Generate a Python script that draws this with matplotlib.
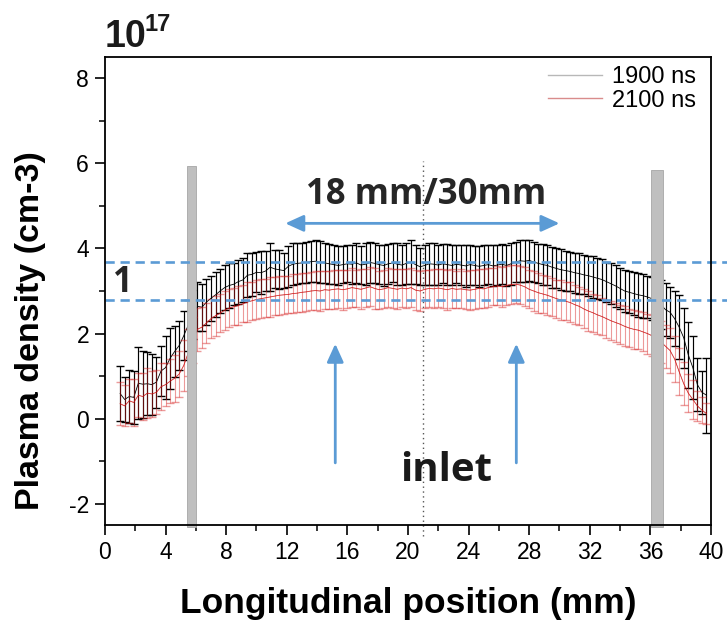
import numpy as np
import matplotlib
matplotlib.use("Agg")
import matplotlib.pyplot as plt
from matplotlib.lines import Line2D
from matplotlib.ticker import MultipleLocator

plt.rcParams["axes.unicode_minus"] = False
BASE = "Liberation Sans"
ANNOT = "Open Sans"

# ---- data ----
x_start, x_step, n_pts = 1.0, 0.3, 130
x_mm = np.round(x_start + x_step * np.arange(n_pts), 2)

black_mean = [0.59, 0.45, 0.52, 0.50, 0.83, 0.81, 0.82, 0.80, 0.86, 1.12, 1.20, 1.42, 1.58, 1.72, 1.95,
              2.20, 2.45,
              2.64, 2.62, 2.74, 2.83, 2.91, 3.00, 3.08, 3.13, 3.16, 3.22, 3.26, 3.37, 3.39,
              3.44, 3.43, 3.47, 3.56, 3.52, 3.50, 3.48, 3.58, 3.63, 3.65,
              3.66, 3.67, 3.69, 3.70, 3.68, 3.66, 3.64, 3.62, 3.60, 3.62,
              3.64, 3.63, 3.66, 3.61, 3.63, 3.67, 3.65, 3.62, 3.60, 3.64,
              3.66, 3.63, 3.61, 3.65, 3.68, 3.62, 3.57, 3.60, 3.64, 3.63,
              3.61, 3.64, 3.62, 3.60, 3.63, 3.61, 3.59, 3.62, 3.60, 3.58,
              3.60, 3.62, 3.59, 3.61, 3.63, 3.60, 3.64, 3.68, 3.71, 3.70,
              3.72, 3.68, 3.65, 3.62, 3.60, 3.56, 3.53, 3.50, 3.48, 3.46,
              3.43, 3.41, 3.38, 3.36, 3.33, 3.30, 3.27, 3.22, 3.17, 3.12,
              3.06, 3.00, 2.97, 2.94, 2.91, 2.89, 2.86, 2.82, 2.75, 2.68,
              2.56, 2.50, 2.35, 2.15, 1.90, 1.50, 1.20, 0.80, 0.62, 0.55]
black_err = [0.64, 0.54, 0.62, 0.63, 0.85, 0.79, 0.74, 0.72, 0.60, 0.58, 0.74, 0.72, 0.60, 0.58, 0.58,
             0.60, 0.58,
             0.57, 0.55, 0.55, 0.53, 0.53, 0.51, 0.52, 0.52, 0.50, 0.52, 0.52, 0.52, 0.50,
             0.47, 0.50, 0.48, 0.56, 0.45, 0.46, 0.42, 0.48, 0.49, 0.48,
             0.48, 0.49, 0.48, 0.50, 0.49, 0.48, 0.47, 0.46, 0.45, 0.44,
             0.44, 0.46, 0.47, 0.45, 0.50, 0.49, 0.47, 0.46, 0.48, 0.47,
             0.46, 0.50, 0.47, 0.48, 0.52, 0.46, 0.44, 0.47, 0.49, 0.50,
             0.48, 0.46, 0.49, 0.47, 0.45, 0.48, 0.50, 0.47, 0.46, 0.48,
             0.47, 0.45, 0.48, 0.46, 0.47, 0.49, 0.50, 0.48, 0.49, 0.50,
             0.48, 0.47, 0.46, 0.49, 0.47, 0.48, 0.47, 0.48, 0.47, 0.46,
             0.47, 0.48, 0.46, 0.47, 0.50, 0.48, 0.49, 0.47, 0.48, 0.50,
             0.48, 0.50, 0.49, 0.50, 0.52, 0.52, 0.50, 0.50, 0.55, 0.58,
             0.62, 0.60, 0.65, 0.75, 0.70, 0.78, 0.75, 0.62, 0.50, 0.88]
red_mean = [0.35, 0.30, 0.42, 0.38, 0.55, 0.52, 0.60, 0.58, 0.62, 0.75, 0.80, 0.88, 0.95, 1.05, 1.25,
            1.55, 1.85,
            2.10, 2.15, 2.25, 2.35, 2.42, 2.48, 2.55, 2.60, 2.63, 2.66, 2.70, 2.74, 2.77,
            2.80, 2.82, 2.84, 2.86, 2.88, 2.90, 2.91, 2.92, 2.94, 2.95,
            2.97, 2.98, 3.00, 3.01, 3.00, 3.03, 3.02, 3.04, 3.05, 3.03,
            3.05, 3.08, 3.06, 3.04, 3.07, 3.10, 3.06, 3.03, 3.05, 3.08,
            3.06, 3.04, 3.07, 3.05, 3.08, 3.02, 3.00, 3.04, 3.06, 3.05,
            3.07, 3.05, 3.03, 3.06, 3.04, 3.05, 3.03, 3.02, 3.04, 3.06,
            3.05, 3.08, 3.10, 3.12, 3.10, 3.13, 3.15, 3.16, 3.14, 3.10,
            3.04, 3.00, 2.96, 2.93, 2.90, 2.86, 2.82, 2.79, 2.76, 2.73,
            2.68, 2.64, 2.58, 2.53, 2.49, 2.44, 2.40, 2.35, 2.30, 2.26,
            2.22, 2.17, 2.13, 2.10, 2.08, 2.04, 2.00, 1.95, 1.88, 1.80,
            1.70, 1.60, 1.40, 1.10, 0.82, 0.60, 0.45, 0.30, 0.20, 0.12]
red_err = [0.50, 0.48, 0.52, 0.55, 0.52, 0.55, 0.58, 0.55, 0.52, 0.55, 0.50, 0.52, 0.55, 0.55, 0.60,
           0.55, 0.55,
           0.50, 0.48, 0.47, 0.46, 0.47, 0.45, 0.46, 0.45, 0.44, 0.45, 0.44, 0.46, 0.45,
           0.45, 0.46, 0.44, 0.47, 0.45, 0.46, 0.45, 0.44, 0.46, 0.45,
           0.46, 0.45, 0.44, 0.46, 0.47, 0.45, 0.44, 0.46, 0.45, 0.47,
           0.45, 0.46, 0.44, 0.47, 0.45, 0.46, 0.48, 0.45, 0.44, 0.46,
           0.45, 0.47, 0.44, 0.46, 0.45, 0.47, 0.46, 0.45, 0.44, 0.46,
           0.45, 0.46, 0.47, 0.45, 0.44, 0.46, 0.45, 0.47, 0.46, 0.45,
           0.46, 0.45, 0.44, 0.46, 0.47, 0.45, 0.46, 0.44, 0.45, 0.46,
           0.45, 0.46, 0.47, 0.45, 0.46, 0.44, 0.45, 0.46, 0.45, 0.47,
           0.46, 0.45, 0.46, 0.47, 0.45, 0.46, 0.44, 0.45, 0.46, 0.45,
           0.46, 0.47, 0.45, 0.46, 0.45, 0.46, 0.47, 0.48, 0.48, 0.50,
           0.50, 0.52, 0.55, 0.55, 0.50, 0.45, 0.45, 0.35, 0.30, 0.25]

series_labels = ["1900 ns", "2100 ns"]
electrode_spans = [(5.4, 6.0, 5.93), (36.05, 36.84, 5.84)]   # x0, x1, top
inlet_x = 21.0
dashed_levels = [3.67, 2.78]
span_arrow = (11.9, 30.0, 4.59)
inlet_arrows_x = [15.2, 27.15]
inlet_arrow_y = (-1.04, 1.76)

# ---- figure ----
fig = plt.figure(figsize=(7.27, 6.23), dpi=100)
ax = fig.add_axes([0.1444, 0.1573, 0.8336, 0.7512])
ax.set_xlim(0, 40)
ax.set_ylim(-2.5, 8.5)

blue = "#5b9bd5"

ax.errorbar(x_mm, black_mean, yerr=black_err, color="black", lw=0.6,
            elinewidth=0.85, capsize=3, capthick=1.0, zorder=3)
ax.errorbar(x_mm, red_mean, yerr=red_err, color="#d62020", lw=0.6,
            elinewidth=0.8, capsize=3, capthick=1.0, alpha=0.45, zorder=4)
ax.plot(x_mm, red_mean, color="#c00000", lw=0.5, alpha=0.8, zorder=4)

for x0, x1, top in electrode_spans:
    ax.bar((x0 + x1) / 2, top + 2.55, width=x1 - x0, bottom=-2.55, color="#bfbfbf",
           edgecolor="#a6a6a6", lw=0.6, zorder=6, clip_on=False)

ax.plot([inlet_x, inlet_x], [-2.75, 6.05], ls=(0, (1, 2.5)), color="#555555",
        lw=1.0, zorder=5, clip_on=False)

for lvl in dashed_levels:
    ax.plot([0, 41.2], [lvl, lvl], ls=(0, (3.5, 2.2)), color=blue, lw=1.9,
            zorder=7, clip_on=False)

ax.annotate("", xy=(span_arrow[0], span_arrow[2]), xytext=(span_arrow[1], span_arrow[2]),
            arrowprops=dict(arrowstyle="<|-|>,head_length=1.1,head_width=0.5",
                            color=blue, lw=2.0, shrinkA=0, shrinkB=0), zorder=8)
for xa in inlet_arrows_x:
    ax.annotate("", xy=(xa, inlet_arrow_y[1]), xytext=(xa, inlet_arrow_y[0]),
                arrowprops=dict(arrowstyle="-|>,head_length=1.1,head_width=0.5",
                                color=blue, lw=2.0, shrinkA=0, shrinkB=0), zorder=8)

ax.text(21.2, 5.25, "18 mm/30mm", ha="center", va="center", fontsize=25,
        fontweight="bold", family=ANNOT, color="#262626", zorder=9)
ax.text(1.15, 3.18, "1", ha="center", va="center", fontsize=25,
        fontweight="bold", family=ANNOT, color="#262626", zorder=9)
ax.text(22.5, -1.22, "inlet", ha="center", va="center", fontsize=29,
        fontweight="bold", family=ANNOT, color="#1a1a1a", zorder=9)

# axes styling
for s in ax.spines.values():
    s.set_linewidth(1.3)
    s.set_zorder(10)
ax.xaxis.set_major_locator(MultipleLocator(4))
ax.xaxis.set_minor_locator(MultipleLocator(2))
ax.yaxis.set_major_locator(MultipleLocator(2))
ax.yaxis.set_minor_locator(MultipleLocator(1))
ax.tick_params(which="major", direction="out", length=7.5, width=1.2, labelsize=16.5, pad=4)
ax.tick_params(which="minor", direction="out", length=4, width=1.1)
for lab in ax.get_xticklabels() + ax.get_yticklabels():
    lab.set_family(BASE)

ax.set_xlabel("Longitudinal position (mm)", fontsize=25.5, fontweight="bold", family=BASE)
ax.xaxis.set_label_coords(0.5, -0.132)
ax.xaxis.label.set_va("top")
ax.set_ylabel("Plasma density (cm-3)", fontsize=24.5, fontweight="bold", family=BASE)
ax.yaxis.set_label_coords(-0.098, 0.4145)

fig.text(105 / 727, 1 - 47 / 623, "10", fontsize=27, fontweight="bold", family=BASE,
         ha="left", va="baseline", color="#1a1a1a")
fig.text(144 / 727, 1 - 31 / 623, "17", fontsize=17, fontweight="bold", family=BASE,
         ha="left", va="baseline", color="#1a1a1a")

handles = [Line2D([], [], color="#b8b8b8", lw=1.0),
           Line2D([], [], color="#d98c8c", lw=1.0)]
leg = ax.legend(handles, series_labels, loc="upper right", frameon=False,
                prop={"family": BASE, "size": 17}, handlelength=2.3,
                handletextpad=0.4, labelspacing=0.05, borderaxespad=0.0,
                bbox_to_anchor=(0.99, 1.0))

fig.savefig("out.png", dpi=100)
